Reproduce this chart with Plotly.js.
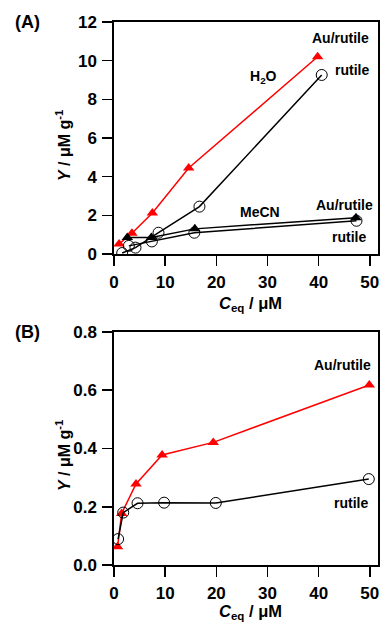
<!DOCTYPE html>
<html>
<head>
<meta charset="utf-8">
<script src="https://cdn.plot.ly/plotly-3.0.1.min.js"></script>
<style>html,body{margin:0;padding:0;background:#fff;}#chart{width:380px;height:623px;}</style>
</head>
<body>
<div id="chart"></div>
<script>
// Panel A: water (H2O) and acetonitrile (MeCN)
const aH2oAuX = [1.0, 3.5, 7.5, 14.6, 39.8];
const aH2oAuY = [0.52, 1.07, 2.12, 4.45, 10.2];
const aH2oRuX = [1.6, 4.2, 8.7, 16.7, 40.6];
const aH2oRuY = [0.05, 0.33, 1.1, 2.45, 9.26];
const aMeCNAuX = [2.6, 7.3, 15.8, 47.3];
const aMeCNAuY = [0.85, 0.85, 1.3, 1.88];
const aMeCNRuX = [2.9, 7.4, 15.7, 47.4];
const aMeCNRuY = [0.42, 0.65, 1.1, 1.72];
// Panel B
const bAuX = [0.7, 1.5, 4.3, 9.4, 19.4, 49.9];
const bAuY = [0.063, 0.177, 0.278, 0.378, 0.421, 0.618];
const bRuX = [0.8, 1.8, 4.6, 9.8, 19.9, 49.8];
const bRuY = [0.089, 0.18, 0.212, 0.214, 0.213, 0.295];
const aTicks = [0, 2, 4, 6, 8, 10, 12];
const bTicks = [0, 0.2, 0.4, 0.6, 0.8];
const xTicks = [0, 10, 20, 30, 40, 50];

const FONT = 'Arial, "Liberation Sans", sans-serif';
const RED = '#ff0000';

function redTri(x, y, xa, ya) {
  return {x, y, xaxis: xa, yaxis: ya, mode: 'lines+markers', type: 'scatter',
    line: {color: RED, width: 1.5},
    marker: {symbol: 'triangle-up', size: 10, color: RED}};
}
function blkTri(x, y, xa, ya) {
  return {x, y, xaxis: xa, yaxis: ya, mode: 'lines+markers', type: 'scatter',
    line: {color: '#000', width: 1.5},
    marker: {symbol: 'triangle-up', size: 10, color: '#000'}};
}
function circ(x, y, xa, ya) {
  return {x, y, xaxis: xa, yaxis: ya, mode: 'lines+markers', type: 'scatter',
    line: {color: '#000', width: 1.5},
    marker: {symbol: 'circle', size: 11, color: 'rgba(255,255,255,0)', line: {color: '#000', width: 1}}};
}

const data = [
  redTri(aH2oAuX, aH2oAuY, 'x', 'y'),
  circ(aH2oRuX, aH2oRuY, 'x', 'y'),
  circ(aMeCNRuX, aMeCNRuY, 'x', 'y'),
  blkTri(aMeCNAuX, aMeCNAuY, 'x', 'y'),
  redTri(bAuX, bAuY, 'x2', 'y2'),
  circ(bRuX, bRuY, 'x2', 'y2')
];

const xdom = [114/380, 378/380];
function axBase() {
  return {showline: true, mirror: true, linecolor: '#000', linewidth: 1.6,
    ticks: 'outside', ticklen: 10, tickwidth: 1.6, tickcolor: '#000',
    showgrid: false, zeroline: false,
    tickfont: {family: FONT, size: 17, color: '#000', weight: 'bold'}};
}
const layout = {
  width: 380, height: 623,
  margin: {l: 0, r: 0, t: 0, b: 0},
  paper_bgcolor: '#fff', plot_bgcolor: '#fff',
  showlegend: false,
  font: {family: FONT, color: '#000'},
  xaxis: Object.assign(axBase(), {domain: xdom, range: [0, 51.6], tickvals: xTicks, anchor: 'y', ticklabelstandoff: 2}),
  yaxis: Object.assign(axBase(), {domain: [1 - 254/623, 1 - 22/623], range: [0, 12], tickvals: aTicks, anchor: 'x', ticklabelstandoff: 2}),
  xaxis2: Object.assign(axBase(), {domain: xdom, range: [0, 51.6], tickvals: xTicks, anchor: 'y2', ticklabelstandoff: 2}),
  yaxis2: Object.assign(axBase(), {domain: [1 - 565/623, 1 - 332/623], range: [0, 0.8], tickvals: bTicks, tickformat: '.1f', anchor: 'x2', ticklabelstandoff: 2}),
  annotations: []
};

function ann(text, x, y, xref, yref, size, extra) {
  return Object.assign({text, x, y, xref, yref, showarrow: false,
    font: {family: FONT, size: size, color: '#000', weight: 'bold'},
    xanchor: 'center', yanchor: 'middle'}, extra || {});
}
const A = layout.annotations;
A.push(ann('<b>(A)</b>', 27/380, 1 - 22/623, 'paper', 'paper', 18));
A.push(ann('<b>(B)</b>', 27/380, 1 - 332/623, 'paper', 'paper', 18));
A.push(ann('<b><i>C</i><sub>eq</sub> / μM</b>', 250/380, 1 - 304/623, 'paper', 'paper', 16.5));
A.push(ann('<b><i>C</i><sub>eq</sub> / μM</b>', 250/380, 0, 'paper', 'paper', 16.5, {yanchor: 'bottom', borderpad: 0}));
A.push(ann('<b><i>Y</i> / μM g<sup>-1</sup></b>', 63/380, 1 - 145/623, 'paper', 'paper', 16, {textangle: -90}));
A.push(ann('<b><i>Y</i> / μM g<sup>-1</sup></b>', 63/380, 1 - 455/623, 'paper', 'paper', 16, {textangle: -90}));
// in-plot labels
A.push(ann('<b>Au/rutile</b>', 44.2, 11.17, 'x', 'y', 14));
A.push(ann('<b>H<sub>2</sub>O</b>', 29.2, 9.16, 'x', 'y', 14));
A.push(ann('<b>rutile</b>', 46.6, 9.52, 'x', 'y', 14));
A.push(ann('<b>MeCN</b>', 28.6, 2.17, 'x', 'y', 14));
A.push(ann('<b>Au/rutile</b>', 45.0, 2.53, 'x', 'y', 14));
A.push(ann('<b>rutile</b>', 46.0, 0.88, 'x', 'y', 14));
A.push(ann('<b>Au/rutile</b>', 44.6, 0.687, 'x2', 'y2', 14));
A.push(ann('<b>rutile</b>', 46.4, 0.213, 'x2', 'y2', 14));

Plotly.newPlot('chart', data, layout, {staticPlot: true, displayModeBar: false});
</script>
</body>
</html>
